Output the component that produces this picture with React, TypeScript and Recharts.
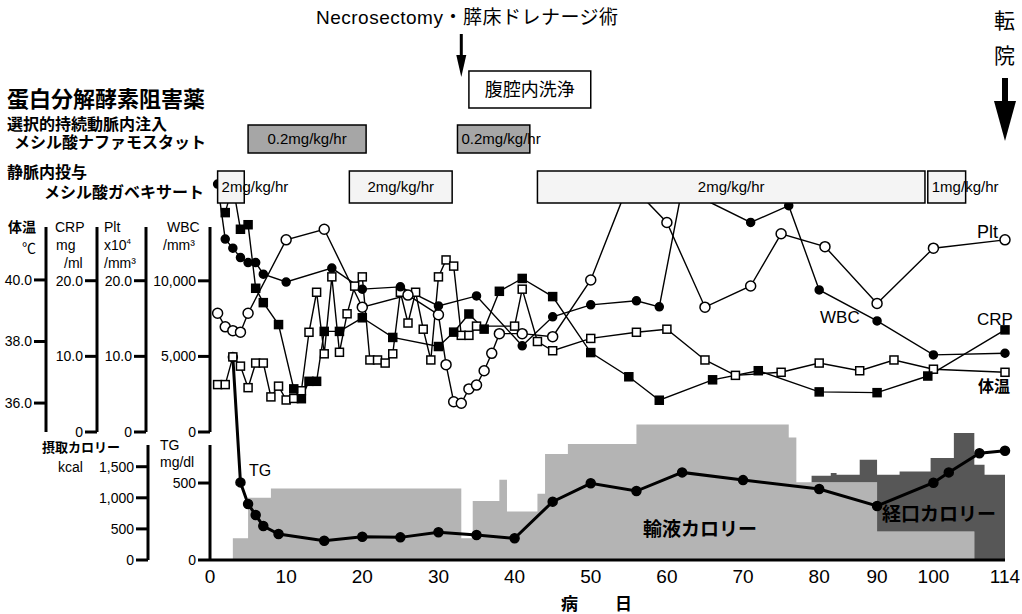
import React from 'react';
import { ComposedChart, Line, Area, XAxis, YAxis, ReferenceArea, ReferenceLine } from 'recharts';

// ---------------- x axis (病日); the published chart compresses days 80–114 ----------------
const X_BREAK_DAYS = [0, 80, 90, 100, 114];
const X_BREAK_POS = [0, 80, 87.6, 95, 104.4];
const X_TICK_DAYS = [0, 10, 20, 30, 40, 50, 60, 70, 80, 90, 100, 114];

// ---------------- upper panel ----------------
const WBC_DAYS = [1, 2, 3, 4, 5, 6, 7, 10, 16, 20, 25, 30, 35, 41, 45, 50, 56, 59, 62, 71, 76, 80, 90, 100, 114];
const WBC_VALUES = [16400, 12760, 12160, 11540, 11210, 11210, 10440, 9920, 10840, 9450, 9600, 8340, 9000, 5700, 7620, 8410, 8680, 8280, 16100, 13860, 14970, 9400, 7350, 5100, 5210];

const CRP_DAYS = [2, 3, 4, 5, 6, 7, 9, 11, 12, 13, 14, 15, 17, 20, 24, 30, 32, 34, 36, 38, 41, 45, 50, 55, 59, 66, 72, 80, 90, 99, 114];
const CRP_VALUES = [29.0, 32.6, 26.8, 27.4, 19.0, 17.1, 14.2, 5.7, 4.4, 6.7, 6.7, 13.3, 13.3, 15.1, 12.5, 11.3, 13.2, 15.6, 13.6, 18.6, 20.3, 17.9, 10.5, 7.3, 4.2, 6.9, 8.1, 5.3, 5.2, 7.4, 13.5];

const PLT_DAYS = [1, 2, 3, 4, 5, 10, 15, 20, 26, 30, 31, 32, 33, 34, 35, 36, 37, 38, 41, 45, 50, 55, 60, 65, 71, 75, 81, 90, 100, 114];
const PLT_VALUES = [15.7, 13.9, 13.4, 13.2, 15.7, 25.4, 26.8, 16.5, 18.1, 15.5, 8.9, 4.0, 3.8, 5.7, 6.2, 8.1, 10.4, 13.0, 13.0, 12.6, 20.1, 32.9, 27.7, 16.5, 19.3, 26.2, 24.5, 17.0, 24.3, 25.4];

const TEMP_DAYS = [1, 2, 3, 4, 5, 6, 7, 8, 9, 10, 11, 12, 13, 14, 15, 16, 17, 18, 19, 20, 21, 22, 23, 24, 25, 26, 27, 28, 29, 30, 31, 32, 33, 34, 35, 40, 41, 43, 45, 50, 56, 60, 65, 69, 75, 80, 87, 93, 100, 114];
const TEMP_VALUES = [36.6, 36.6, 37.5, 37.2, 36.5, 37.3, 37.3, 36.2, 36.55, 36.1, 36.15, 36.4, 38.3, 39.6, 37.6, 40.1, 37.65, 38.9, 39.8, 40.1, 37.4, 37.4, 37.3, 37.6, 39.6, 38.6, 39.6, 38.4, 37.4, 40.1, 40.65, 40.45, 38.2, 38.2, 38.5, 38.5, 39.7, 38.0, 37.7, 38.1, 38.3, 38.4, 37.4, 36.9, 37.0, 37.3, 37.05, 37.4, 37.1, 37.0];

// ---------------- lower panel ----------------
const TG_DAYS = [3, 4, 5, 6, 7, 9, 15, 20, 25, 30, 35, 40, 45, 50, 56, 62, 70, 80, 90, 100, 103, 109, 114];
const TG_VALUES = [1318, 504, 364, 292, 221, 169, 125, 151, 147, 180, 162, 141, 379, 498, 448, 569, 519, 461, 351, 502, 569, 693, 710];

// stepped intake (kcal/day), value holds from the given day until the next one
const CAL_DAYS = [3, 5, 8, 33, 34.5, 38, 39, 43, 44, 47, 56, 76, 77, 79, 82, 83, 87, 90, 94, 99.5, 104, 108, 110, 114];
const IV_KCAL = [350, 1000, 1150, 350, 950, 1290, 780, 1065, 1705, 1866, 2177, 1970, 1250, 1250, 1250, 1250, 1250, 457, 457, 457, 457, 0, 0, 0];
const ORAL_KCAL = [0, 0, 0, 0, 0, 0, 0, 0, 0, 0, 0, 0, 0, 105, 150, 120, 360, 914, 967, 1183, 1586, 1532, 1371, 1371];

// ---------------- treatments ----------------
const NAF_PERIODS = [[5, 20.5], [32.5, 42]];
const NAF_LABELS = ['0.2mg/kg/hr', '0.2mg/kg/hr'];
const GAB_PERIODS = [[1, 4.5], [18.3, 31.8], [43, 98.5], [99, 106.3]];
const GAB_LABELS = ['2mg/kg/hr', '2mg/kg/hr', '2mg/kg/hr', '1mg/kg/hr'];
const LAVAGE_PERIOD = [34, 50];
const SURGERY_DAY = 33;
const TRANSFER_DAY = 114;

// ---------------- layout ----------------
const W = 1022;
const H = 614;
const PLOT_L = 210;
const PLOT_R = 1005;
const U_TOP = 227;
const U_BOT = 432;
const U_SERIES_TOP = 150;
const L_TOP = 445;
const L_BOT = 560;
const L_SERIES_TOP = 340;
const FONT = "'Liberation Sans', 'Noto Sans CJK JP', sans-serif";

const WBC_DOMAIN: [number, number] = [0, 13560];
const CRP_DOMAIN: [number, number] = [0, 27.1];
const PLT_DOMAIN: [number, number] = [0, 27.1];
const TEMP_DOMAIN: [number, number] = [35.06, 41.72];
const TG_DOMAIN: [number, number] = [0, 747];
const KCAL_DOMAIN: [number, number] = [0, 1849];

function dayToPos(d: number): number {
  for (let i = 1; i < X_BREAK_DAYS.length; i++) {
    if (d <= X_BREAK_DAYS[i] || i === X_BREAK_DAYS.length - 1) {
      const d0 = X_BREAK_DAYS[i - 1], d1 = X_BREAK_DAYS[i];
      const p0 = X_BREAK_POS[i - 1], p1 = X_BREAK_POS[i];
      return p0 + ((d - d0) * (p1 - p0)) / (d1 - d0);
    }
  }
  return d;
}
const X_DOMAIN: [number, number] = [0, X_BREAK_POS[X_BREAK_POS.length - 1] + 0.0001];
const X_TICKS = X_TICK_DAYS.map(dayToPos);
const xTickLabel = (v: number) => {
  const i = X_TICKS.findIndex((p) => Math.abs(p - v) < 0.01);
  return i >= 0 ? String(X_TICK_DAYS[i]) : '';
};

// extend an axis domain that is shown between shownTop..bottom to a taller plot fullTop..bottom
const stretch = (dom: [number, number], shownTop: number, fullTop: number, bottom: number): [number, number] => [
  dom[0],
  dom[0] + ((dom[1] - dom[0]) * (bottom - fullTop)) / (bottom - shownTop),
];

const series = (days: number[], vals: number[]) => days.map((d, i) => ({ x: dayToPos(d), v: vals[i] }));
const wbcData = series(WBC_DAYS, WBC_VALUES);
const crpData = series(CRP_DAYS, CRP_VALUES);
const pltData = series(PLT_DAYS, PLT_VALUES);
const tempData = series(TEMP_DAYS, TEMP_VALUES);
const tgData = series(TG_DAYS, TG_VALUES);
const calData = CAL_DAYS.map((d, i) => ({ x: dayToPos(d), iv: IV_KCAL[i], oral: ORAL_KCAL[i] }));

const dot = (kind: 'circle' | 'square', filled: boolean, size: number) => (p: any) => {
  const key = `d-${p.index}`;
  if (p.cx == null || p.cy == null) return <g key={key} />;
  const fill = filled ? '#000' : '#fff';
  return kind === 'circle' ? (
    <circle key={key} cx={p.cx} cy={p.cy} r={size / 2} fill={fill} stroke="#000" strokeWidth={1.5} />
  ) : (
    <rect key={key} x={p.cx - size / 2} y={p.cy - size / 2} width={size} height={size} fill={fill} stroke="#000" strokeWidth={1.5} />
  );
};

const arrowShape = (shaftW: number, headW: number, headH: number) => (p: any) => {
  const x = p.x1;
  const yTop = Math.min(p.y1, p.y2);
  const yBot = Math.max(p.y1, p.y2);
  return (
    <g>
      <line x1={x} y1={yTop} x2={x} y2={yBot - headH + 2} stroke="#000" strokeWidth={shaftW} />
      <polygon points={`${x - headW / 2},${yBot - headH} ${x + headW / 2},${yBot - headH} ${x},${yBot}`} fill="#000" />
    </g>
  );
};

const AXIS_LINE = { stroke: '#000', strokeWidth: 3 };
const TICK_LINE = { stroke: '#000', strokeWidth: 3 };
const TICK_TEXT = { fill: '#000', fontSize: 14, fontFamily: FONT };
const X_TICK_TEXT = { fill: '#000', fontSize: 19, fontFamily: FONT };
const fmtComma = (v: number) => v.toLocaleString('en-US');
const fmtOne = (v: number) => (v === 0 ? '0' : v.toFixed(1));

const abs = (z: number): React.CSSProperties => ({ position: 'absolute', left: 0, top: 0, zIndex: z });

// one vertical value axis per chart, its line placed at lineX
function AxisChart({ lineX, width, top, bottom, domain, ticks, fmt, z, xMode }: any) {
  const xH = xMode === 'labels' ? 30 : 0;
  return (
    <div style={abs(z)}>
      <ComposedChart width={W} height={H} data={calData} margin={{ top, bottom: H - bottom - xH, left: lineX - width, right: W - PLOT_R }}>
        {xMode === 'labels' ? (
          <XAxis
            type="number"
            dataKey="x"
            domain={X_DOMAIN}
            allowDataOverflow
            ticks={X_TICKS}
            tickFormatter={xTickLabel}
            interval={0}
            height={30}
            axisLine={AXIS_LINE}
            tickLine={false}
            tickSize={6}
            tickMargin={4}
            tick={X_TICK_TEXT}
          />
        ) : xMode === 'line' ? (
          <XAxis type="number" dataKey="x" domain={X_DOMAIN} allowDataOverflow height={0} tick={false} tickLine={false} axisLine={AXIS_LINE} />
        ) : (
          <XAxis type="number" dataKey="x" domain={X_DOMAIN} allowDataOverflow hide />
        )}
        <YAxis
          type="number"
          width={width}
          domain={domain}
          allowDataOverflow
          ticks={ticks}
          tickFormatter={fmt}
          interval={0}
          axisLine={AXIS_LINE}
          tickLine={TICK_LINE}
          tickSize={12}
          tickMargin={2}
          tick={TICK_TEXT}
        />
      </ComposedChart>
    </div>
  );
}

function Band({ top, bottom, z, children }: any) {
  return (
    <div style={abs(z)}>
      <ComposedChart width={W} height={H} data={calData} margin={{ top, bottom: H - bottom, left: PLOT_L, right: W - PLOT_R }}>
        <XAxis type="number" dataKey="x" domain={X_DOMAIN} allowDataOverflow hide />
        <YAxis type="number" domain={[0, 1]} allowDataOverflow hide />
        {children}
      </ComposedChart>
    </div>
  );
}

const T = ({ x, y, s, b, children, st }: any) => (
  <div style={{ position: 'absolute', left: x, top: y, fontSize: s, fontWeight: b ? 700 : 400, lineHeight: 1, whiteSpace: 'nowrap', color: '#000', ...(st || {}) }}>
    {children}
  </div>
);

const fmtTemp = (v: number) => v.toFixed(1);

export default function App() {
  return (
    <div style={{ position: 'absolute', left: 0, top: 0, width: W, height: H, overflow: 'hidden', background: '#fff', fontFamily: FONT }}>
      {/* lower panel series */}
      <div style={abs(1)}>
        <ComposedChart width={W} height={H} data={calData} margin={{ top: L_SERIES_TOP, bottom: H - L_BOT, left: PLOT_L, right: W - PLOT_R }}>
          <XAxis type="number" dataKey="x" domain={X_DOMAIN} hide />
          <YAxis yAxisId="kcal" type="number" domain={stretch(KCAL_DOMAIN, L_TOP, L_SERIES_TOP, L_BOT)} hide />
          <YAxis yAxisId="tg" type="number" domain={stretch(TG_DOMAIN, L_TOP, L_SERIES_TOP, L_BOT)} hide />
          <Area yAxisId="kcal" type="stepAfter" dataKey="iv" stackId="cal" fill="#b4b4b4" fillOpacity={1} stroke="none" isAnimationActive={false} />
          <Area yAxisId="kcal" type="stepAfter" dataKey="oral" stackId="cal" fill="#575757" fillOpacity={1} stroke="none" isAnimationActive={false} />
          <Line yAxisId="tg" data={tgData} dataKey="v" type="linear" stroke="#000" strokeWidth={3} dot={dot('circle', true, 9)} isAnimationActive={false} />
        </ComposedChart>
      </div>

      {/* lower panel axes */}
      <AxisChart z={2} lineX={148} width={60} top={L_TOP} bottom={L_BOT} domain={KCAL_DOMAIN} ticks={[0, 500, 1000, 1500]} fmt={fmtComma} />
      <AxisChart z={2} lineX={PLOT_L} width={62} top={L_TOP} bottom={L_BOT} domain={TG_DOMAIN} ticks={[0, 500]} xMode="labels" />

      {/* upper panel axes */}
      <AxisChart z={3} lineX={46} width={40} top={U_TOP} bottom={U_BOT} domain={TEMP_DOMAIN} ticks={[36, 38, 40]} fmt={fmtTemp} />
      <AxisChart z={3} lineX={97} width={51} top={U_TOP} bottom={U_BOT} domain={CRP_DOMAIN} ticks={[0, 10, 20]} fmt={fmtOne} />
      <AxisChart z={3} lineX={146} width={49} top={U_TOP} bottom={U_BOT} domain={PLT_DOMAIN} ticks={[0, 10, 20]} fmt={fmtOne} />
      <AxisChart z={3} lineX={PLOT_L} width={64} top={U_TOP} bottom={U_BOT} domain={WBC_DOMAIN} ticks={[0, 5000, 10000]} fmt={fmtComma} xMode="line" />

      {/* upper panel series */}
      <div style={abs(4)}>
        <ComposedChart width={W} height={H} margin={{ top: U_SERIES_TOP, bottom: H - U_BOT, left: PLOT_L, right: W - PLOT_R }}>
          <XAxis type="number" dataKey="x" domain={X_DOMAIN} hide />
          <YAxis yAxisId="wbc" type="number" domain={stretch(WBC_DOMAIN, U_TOP, U_SERIES_TOP, U_BOT)} hide />
          <YAxis yAxisId="crp" type="number" domain={stretch(CRP_DOMAIN, U_TOP, U_SERIES_TOP, U_BOT)} hide />
          <YAxis yAxisId="plt" type="number" domain={stretch(PLT_DOMAIN, U_TOP, U_SERIES_TOP, U_BOT)} hide />
          <YAxis yAxisId="temp" type="number" domain={stretch(TEMP_DOMAIN, U_TOP, U_SERIES_TOP, U_BOT)} hide />
          <Line yAxisId="temp" data={tempData} dataKey="v" type="linear" stroke="#000" strokeWidth={1.4} dot={dot('square', false, 8)} isAnimationActive={false} />
          <Line yAxisId="plt" data={pltData} dataKey="v" type="linear" stroke="#000" strokeWidth={1.4} dot={dot('circle', false, 10)} isAnimationActive={false} />
          <Line yAxisId="crp" data={crpData} dataKey="v" type="linear" stroke="#000" strokeWidth={1.4} dot={dot('square', true, 8)} isAnimationActive={false} />
          <Line yAxisId="wbc" data={wbcData} dataKey="v" type="linear" stroke="#000" strokeWidth={1.4} dot={dot('circle', true, 8)} isAnimationActive={false} />
        </ComposedChart>
      </div>

      {/* treatment rows */}
      <Band top={125} bottom={153} z={5}>
        {NAF_PERIODS.map((p, i) => (
          <ReferenceArea
            key={`naf${i}`}
            x1={dayToPos(p[0])}
            x2={dayToPos(p[1])}
            ifOverflow="visible"
            fill="#a6a6a6"
            fillOpacity={1}
            stroke="#000"
            strokeWidth={1.5}
            label={{ value: NAF_LABELS[i], position: i === 0 ? 'center' : 'insideLeft', offset: 4, fill: '#000', fontSize: 15, fontFamily: FONT }}
          />
        ))}
      </Band>
      <Band top={171} bottom={203} z={5}>
        {GAB_PERIODS.map((p, i) => (
          <ReferenceArea
            key={`gab${i}`}
            x1={dayToPos(p[0])}
            x2={dayToPos(p[1])}
            ifOverflow="visible"
            fill="#f4f4f4"
            fillOpacity={1}
            stroke="#000"
            strokeWidth={1.5}
            label={{ value: GAB_LABELS[i], position: i === 0 || i === 3 ? 'insideLeft' : 'center', offset: 4, fill: '#000', fontSize: 15, fontFamily: FONT }}
          />
        ))}
      </Band>
      <Band top={71} bottom={108} z={5}>
        <ReferenceArea
          x1={dayToPos(LAVAGE_PERIOD[0])}
          x2={dayToPos(LAVAGE_PERIOD[1])}
          ifOverflow="visible"
          fill="#fff"
          fillOpacity={1}
          stroke="#000"
          strokeWidth={1.5}
          label={{ value: '腹腔内洗浄', position: 'center', fill: '#000', fontSize: 18, fontFamily: FONT }}
        />
      </Band>
      <Band top={34} bottom={77} z={5}>
        <ReferenceLine x={dayToPos(SURGERY_DAY)} ifOverflow="visible" shape={arrowShape(3, 10, 22)} />
      </Band>
      <Band top={78} bottom={141} z={5}>
        <ReferenceLine x={dayToPos(TRANSFER_DAY)} ifOverflow="visible" shape={arrowShape(6, 22, 40)} />
      </Band>

      {/* texts */}
      <div style={{ position: 'absolute', left: 0, top: 0, zIndex: 6 }}>
        <T x={316} y={8} s={19} st={{ letterSpacing: 0.5 }}>Necrosectomy・膵床ドレナージ術</T>
        <T x={994} y={10} s={21}>転</T>
        <T x={994} y={45} s={21}>院</T>

        <T x={7} y={89} s={22} b>蛋白分解酵素阻害薬</T>
        <T x={7} y={117} s={16} b>選択的持続動脈内注入</T>
        <T x={14} y={135} s={16} b>メシル酸ナファモスタット</T>
        <T x={7} y={165} s={16} b>静脈内投与</T>
        <T x={44} y={185} s={16} b>メシル酸ガベキサート</T>

        <T x={8} y={220} s={14} b>体温</T>
        <T x={22} y={241} s={14}>℃</T>
        <T x={55} y={220} s={14}>CRP</T>
        <T x={56} y={238} s={14}>mg</T>
        <T x={64} y={256} s={14}>/ml</T>
        <T x={104} y={220} s={14}>Plt</T>
        <T x={104} y={238} s={14}>x10<sup style={{ fontSize: 8 }}>4</sup></T>
        <T x={104} y={256} s={14}>/mm³</T>
        <T x={167} y={220} s={14}>WBC</T>
        <T x={163} y={238} s={14}>/mm³</T>

        <T x={42} y={441} s={13} b>摂取カロリー</T>
        <T x={58} y={460} s={14}>kcal</T>
        <T x={160} y={438} s={14}>TG</T>
        <T x={160} y={455} s={14}>mg/dl</T>

        <T x={977} y={223} s={18}>Plt</T>
        <T x={820} y={309} s={17}>WBC</T>
        <T x={977} y={311} s={17}>CRP</T>
        <T x={978} y={379} s={16} b>体温</T>
        <T x={249} y={463} s={16}>TG</T>
        <T x={643} y={520} s={19} b>輸液カロリー</T>
        <T x={882} y={505} s={19} b>経口カロリー</T>
        <T x={561} y={596} s={17} b>病</T>
        <T x={615} y={596} s={17} b>日</T>
      </div>
    </div>
  );
}
